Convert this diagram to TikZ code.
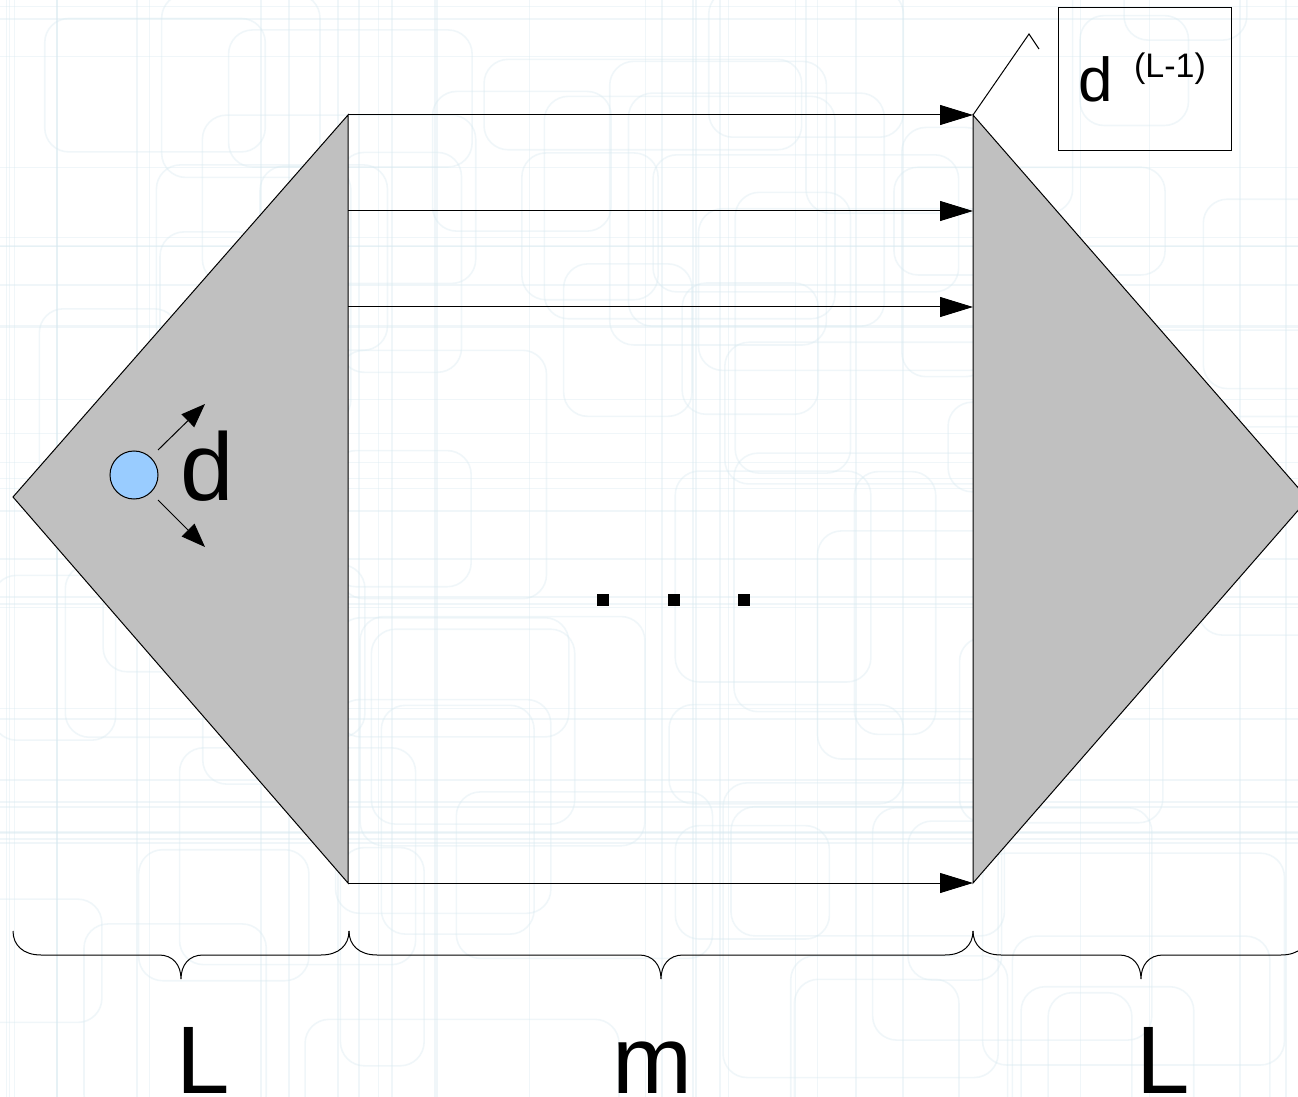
\documentclass[tikz,border=0pt]{standalone}
\usepackage{fontspec}
\setmainfont{Liberation Sans}
\usetikzlibrary{arrows.meta}
\definecolor{tri}{HTML}{C0C0C0}
\definecolor{dotblue}{HTML}{99CCFF}
\definecolor{bgline}{RGB}{214,232,240}
\begin{document}
\begin{tikzpicture}[x=0.5pt,y=-0.5pt,
  edge/.style={line width=0.5pt},
  bigarrow/.style={edge,-{Triangle[length=16.5pt,width=10pt]}},
  smallarrow/.style={edge,-{Triangle[length=12pt,width=9pt]}},
  bgrect/.style={draw=bgline,line width=0.8pt,rounded corners=12pt},
  mybrace/.style={line width=0.5pt},
  biglabel/.style={font=\fontsize{48}{50}\selectfont,inner sep=0pt,anchor=base}]
\useasboundingbox (0,0) rectangle (1298,1097);
\clip (0,0) rectangle (1298,1097);
\fill[white] (0,0) rectangle (1298,1097);
% faint background pattern
\pgfmathsetseed{11}
\foreach \i in {1,...,70}{
  \pgfmathsetmacro\xa{rnd*1298-60}
  \pgfmathsetmacro\ya{rnd*1097-60}
  \pgfmathsetmacro\w{80+rnd*240}
  \pgfmathsetmacro\h{80+rnd*220}
  \draw[bgrect,opacity=0.35] (\xa,\ya) rectangle ++(\w,\h);
}
\foreach \i in {1,...,30}{
  \pgfmathsetmacro\xa{rnd*1298}
  \draw[bgline,line width=0.8pt,opacity=0.35] (\xa,0) -- (\xa,1097);
  \pgfmathsetmacro\ya{rnd*1097}
  \draw[bgline,line width=0.8pt,opacity=0.35] (0,\ya) -- (1298,\ya);
}
% key points
\coordinate (LA) at (13,497);
\coordinate (LT) at (348,115);
\coordinate (LB) at (348,883);
\coordinate (RT) at (973,115);
\coordinate (RB) at (973,883);
\coordinate (RA) at (1308,499);
\coordinate (L2) at (348,211);
\coordinate (R2) at (973,211);
\coordinate (L3) at (348,307);
\coordinate (R3) at (973,307);
% triangles
\filldraw[fill=tri,edge] (LA) -- (LT) -- (LB) -- cycle;
\filldraw[fill=tri,edge] (RA) -- (RT) -- (RB) -- cycle;
% arrows
\draw[bigarrow] (LT) -- (RT);
\draw[bigarrow] (L2) -- (R2);
\draw[bigarrow] (L3) -- (R3);
\draw[bigarrow] (LB) -- (RB);
% circle with arrows
\node[circle,draw,fill=dotblue,minimum size=24pt,inner sep=0pt,line width=0.5pt] (dot) at (134,475) {};
\coordinate (aup) at (205,404);
\coordinate (adn) at (205,547);
\draw[smallarrow] (158,450) -- (aup);
\draw[smallarrow] (158,500) -- (adn);
\node[biglabel] (dlab) at (207,500) {d};
% dots
\foreach \x in {603,674,744}{
  \fill (\x-6,594) rectangle (\x+6,606);
}
% callout box
\node[draw,line width=0.5pt,minimum width=86.5pt,minimum height=71.5pt,inner sep=0pt] (box) at (1144.5,79.5) {};
\node[font=\fontsize{31}{32}\selectfont,inner sep=0pt,anchor=base] (bd) at (1096,102) {d};
\node[font=\fontsize{17}{18}\selectfont,inner sep=0pt,anchor=base] (bs) at (1170,78) {(L-1)};
\coordinate (c1) at (1029,34);
\coordinate (c2) at (1039,49);
\draw[edge] (RT) -- (c1) -- (c2);
% braces
\newcommand\mybr[2]{%
  \draw[mybrace] (#1,931) .. controls (#1,945) and (#1+10,955) .. (#1+28,955)
    -- ({(#1+#2)/2-22},955) .. controls ({(#1+#2)/2-8},955) and ({(#1+#2)/2},965) .. ({(#1+#2)/2},979)
    .. controls ({(#1+#2)/2},965) and ({(#1+#2)/2+8},955) .. ({(#1+#2)/2+22},955)
    -- (#2-28,955) .. controls (#2-10,955) and (#2,945) .. (#2,931);}
\mybr{13}{349}
\mybr{349}{973}
\mybr{973}{1309}
% labels
\node[biglabel] (lL) at (203,1093) {L};
\node[biglabel] (lm) at (652,1093) {m};
\node[biglabel] (lR) at (1163,1093) {L};
\end{tikzpicture}
\end{document}
